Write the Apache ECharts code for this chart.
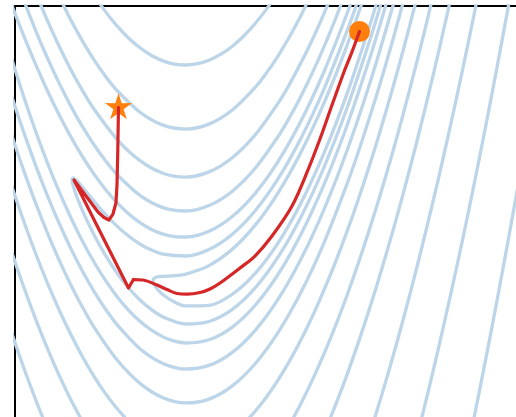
<!DOCTYPE html>
<html>
<head>
<meta charset="utf-8">
<style>
  html, body { margin: 0; padding: 0; background: #ffffff; }
  #chart { width: 516px; height: 417px; }
</style>
<script src="https://cdn.jsdelivr.net/npm/echarts@6/dist/echarts.min.js"></script>
</head>
<body>
<div id="chart"></div>
<script>
// Visible window of the (x, y) plane
const xRange = [-1.487, 2.870];
const yRange = [-1.130, 2.527];

// Contour lines of the objective, innermost level first.
// The two innermost levels close inside the window (lower branch, tip, upper branch).
const contour1 = [
  [1.7, 2.700], [1.6, 2.360], [1.4, 1.745], [1.2, 1.217], [1.0, 0.774], [0.8, 0.417],
  [0.6, 0.145], [0.4, -0.040], [0.2, -0.137], [0, -0.142], [-0.1, -0.107], [-0.2, -0.042],
  [-0.25, 0.009], [-0.27, 0.037], [-0.28, 0.055], [-0.2868, 0.082],
  [-0.28, 0.102], [-0.27, 0.109], [-0.25, 0.116], [-0.2, 0.122], [-0.1, 0.127], [0, 0.142],
  [0.2, 0.217], [0.4, 0.360], [0.6, 0.575], [0.8, 0.863], [1.0, 1.226], [1.2, 1.663],
  [1.4, 2.175], [1.6, 2.760]
];
const contour2 = [
  [1.7, 2.563], [1.6, 2.226], [1.4, 1.617], [1.2, 1.092], [1.0, 0.650], [0.8, 0.292],
  [0.6, 0.017], [0.4, -0.174], [0.2, -0.280], [0, -0.3025], [-0.2, -0.239], [-0.3, -0.175],
  [-0.4, -0.089], [-0.5, 0.020], [-0.6, 0.152], [-0.7, 0.308], [-0.8, 0.491], [-0.9, 0.706],
  [-0.95, 0.832], [-0.98, 0.924], [-0.991, 0.982],
  [-0.98, 0.997], [-0.95, 0.973], [-0.9, 0.914], [-0.8, 0.789], [-0.7, 0.672], [-0.6, 0.568],
  [-0.5, 0.480], [-0.4, 0.409], [-0.3, 0.355], [-0.2, 0.319], [0, 0.3025], [0.2, 0.360],
  [0.4, 0.494], [0.6, 0.703], [0.8, 0.988], [1.0, 1.350], [1.2, 1.788], [1.4, 2.303], [1.5, 2.589]
];
// Outer levels leave the window, so each branch is its own line.
const contour3Upper = [
  [-1.6, 2.771], [-1.5, 2.495], [-1.4, 2.234], [-1.3, 1.990], [-1.2, 1.762], [-1.1, 1.552],
  [-1.0, 1.360], [-0.9, 1.186], [-0.8, 1.031], [-0.7, 0.895], [-0.6, 0.777], [-0.5, 0.679],
  [-0.4, 0.599], [-0.3, 0.538], [-0.2, 0.497], [-0.1, 0.475], [0, 0.4715], [0.2, 0.523],
  [0.4, 0.652], [0.6, 0.858], [0.8, 1.142], [1.0, 1.503], [1.2, 1.942], [1.4, 2.458], [1.5, 2.746]
];
const contour3Lower = [
  [-1.6, 2.349], [-1.5, 2.005], [-1.4, 1.686], [-1.3, 1.390], [-1.2, 1.118], [-1.1, 0.868],
  [-1.0, 0.640], [-0.9, 0.434], [-0.8, 0.249], [-0.7, 0.085], [-0.6, -0.057], [-0.5, -0.179],
  [-0.4, -0.279], [-0.3, -0.358], [-0.2, -0.417], [-0.1, -0.455], [0, -0.4715], [0.2, -0.443],
  [0.4, -0.332], [0.6, -0.138], [0.8, 0.138], [1.0, 0.497], [1.2, 0.938], [1.4, 1.462],
  [1.6, 2.068], [1.7, 2.402], [1.8, 2.757]
];
const contour4Upper = [
  [-1.4, 2.549], [-1.3, 2.291], [-1.2, 2.053], [-1.1, 1.834], [-1.0, 1.634], [-0.9, 1.453],
  [-0.8, 1.292], [-0.7, 1.150], [-0.6, 1.028], [-0.4, 0.842], [-0.2, 0.733], [0, 0.703],
  [0.2, 0.751], [0.4, 0.877], [0.6, 1.081], [0.8, 1.364], [0.9, 1.534], [1.0, 1.725],
  [1.1, 1.934], [1.2, 2.164], [1.3, 2.413], [1.4, 2.681]
];
const contour4Lower = [
  [-1.6, 1.998], [-1.5, 1.674], [-1.4, 1.371], [-1.3, 1.089], [-1.2, 0.827], [-1.1, 0.587],
  [-1.0, 0.366], [-0.9, 0.167], [-0.8, -0.012], [-0.7, -0.170], [-0.6, -0.308], [-0.4, -0.522],
  [-0.2, -0.653], [0, -0.703], [0.2, -0.671], [0.4, -0.557], [0.6, -0.361], [0.8, -0.084],
  [1.0, 0.276], [1.2, 0.716], [1.4, 1.239], [1.6, 1.843], [1.8, 2.529], [1.9, 2.903]
];
const contour5Upper = [
  [-1.3, 2.627], [-1.2, 2.385], [-1.1, 2.162], [-1.0, 1.958], [-0.9, 1.774], [-0.8, 1.610],
  [-0.6, 1.341], [-0.4, 1.151], [-0.2, 1.039], [0, 1.005], [0.2, 1.051], [0.4, 1.175],
  [0.6, 1.378], [0.8, 1.660], [0.9, 1.830], [1.0, 2.021], [1.1, 2.230], [1.2, 2.460], [1.3, 2.709]
];
const contour5Lower = [
  [-1.7, 1.986], [-1.6, 1.647], [-1.5, 1.329], [-1.4, 1.031], [-1.3, 0.753], [-1.2, 0.496],
  [-1.1, 0.259], [-1.0, 0.042], [-0.9, -0.154], [-0.8, -0.330], [-0.6, -0.621], [-0.4, -0.831],
  [-0.2, -0.959], [0, -1.005], [0.2, -0.971], [0.4, -0.855], [0.6, -0.658], [0.8, -0.380],
  [1.0, -0.021], [1.2, 0.420], [1.4, 0.942], [1.5, 1.233], [1.6, 1.545], [1.7, 1.877],
  [1.8, 2.229], [1.9, 2.602]
];
const contour6Upper = [
  [-1.1, 2.605], [-1.0, 2.399], [-0.9, 2.214], [-0.8, 2.048], [-0.7, 1.902], [-0.6, 1.775],
  [-0.4, 1.582], [-0.2, 1.467], [0, 1.432], [0.2, 1.476], [0.4, 1.599], [0.6, 1.801],
  [0.7, 1.932], [0.8, 2.082], [0.9, 2.253], [1.0, 2.443], [1.1, 2.653]
];
const contour6LowerLeft = [
  [-1.6, 1.191], [-1.5, 0.876], [-1.4, 0.580], [-1.3, 0.305], [-1.2, 0.050], [-1.1, -0.185],
  [-1.0, -0.399], [-0.9, -0.594], [-0.8, -0.768], [-0.7, -0.922], [-0.6, -1.055], [-0.5, -1.169]
];
const contour6LowerRight = [
  [0.5, -1.190], [0.6, -1.081], [0.7, -0.952], [0.8, -0.802], [0.9, -0.633], [1.0, -0.443],
  [1.1, -0.233], [1.2, -0.002], [1.3, 0.248], [1.4, 0.519], [1.5, 0.810], [1.6, 1.121],
  [1.7, 1.452], [1.8, 1.804], [1.9, 2.176], [2.0, 2.568]
];
const contour7Upper = [
  [-0.8, 2.625], [-0.7, 2.477], [-0.6, 2.350], [-0.5, 2.242], [-0.4, 2.155], [-0.3, 2.087],
  [-0.2, 2.039], [-0.1, 2.010], [0, 2.002], [0.1, 2.014], [0.2, 2.045], [0.3, 2.096],
  [0.4, 2.167], [0.5, 2.258], [0.6, 2.369], [0.7, 2.499], [0.8, 2.649]
];
const contour7LowerLeft = [
  [-1.6, 0.603], [-1.5, 0.289], [-1.4, -0.005], [-1.3, -0.279], [-1.2, -0.532], [-1.1, -0.766],
  [-1.0, -0.979], [-0.9, -1.172]
];
const contour7LowerRight = [
  [0.9, -1.200], [1.0, -1.010], [1.1, -0.800], [1.2, -0.569], [1.3, -0.319], [1.4, -0.049],
  [1.5, 0.242], [1.6, 0.553], [1.7, 0.884], [1.8, 1.235], [1.9, 1.607], [2.0, 1.998],
  [2.1, 2.410], [2.2, 2.841]
];
const contour8LowerLeft = [
  [-1.6, -0.117], [-1.5, -0.430], [-1.4, -0.723], [-1.3, -0.995], [-1.2, -1.248]
];
const contour8LowerRight = [
  [1.2, -1.275], [1.3, -1.025], [1.4, -0.755], [1.5, -0.464], [1.6, -0.154], [1.7, 0.177],
  [1.8, 0.528], [1.9, 0.899], [2.0, 1.290], [2.1, 1.701], [2.2, 2.133], [2.3, 2.584]
];
const contour9Lower = [
  [1.6, -1.273], [1.7, -0.942], [1.8, -0.592], [1.9, -0.221], [2.0, 0.170], [2.1, 0.581],
  [2.2, 1.012], [2.3, 1.463], [2.4, 1.934], [2.5, 2.425], [2.6, 2.936]
];
const contour10Lower = [
  [2.0, -1.340], [2.1, -0.930], [2.2, -0.499], [2.3, -0.048], [2.4, 0.422], [2.5, 0.913],
  [2.6, 1.424], [2.7, 1.955], [2.8, 2.506], [2.9, 3.077]
];
const contour11Lower = [
  [2.4, -1.652], [2.5, -1.162], [2.6, -0.651], [2.7, -0.120], [2.8, 0.431], [2.9, 1.001], [3.0, 1.592]
];

// Optimizer iterates: the long descent into the valley, then the jump back up the valley
// and the final climb to the last iterate.
const pathDescent = [
  [1.509, 2.300], [1.443, 2.117], [1.374, 1.940], [1.270, 1.646], [1.165, 1.343], [1.061, 1.068],
  [0.922, 0.747], [0.748, 0.480], [0.600, 0.302], [0.470, 0.196], [0.296, 0.062], [0.209, 0.009],
  [0.122, -0.022], [0.009, -0.036], [-0.078, -0.031], [-0.165, 0.004], [-0.252, 0.044],
  [-0.374, 0.089], [-0.457, 0.093]
];
const pathReturn = [
  [-0.457, 0.093], [-0.500, 0.018], [-0.974, 0.979], [-0.765, 0.694],
  [-0.713, 0.645], [-0.670, 0.623], [-0.635, 0.676], [-0.609, 0.774], [-0.600, 0.934],
  [-0.593, 1.246], [-0.587, 1.624]
];
const startPoint = [1.509, 2.300];
const endPoint = [-0.587, 1.624];

const contourLines = [
  contour1, contour2, contour3Upper, contour3Lower, contour4Upper, contour4Lower,
  contour5Upper, contour5Lower, contour6Upper, contour6LowerLeft, contour6LowerRight,
  contour7Upper, contour7LowerLeft, contour7LowerRight, contour8LowerLeft, contour8LowerRight,
  contour9Lower, contour10Lower, contour11Lower
];

const CONTOUR_COLOR = '#bcd5e8';
const PATH_COLOR = '#d62728';
const MARKER_COLOR = '#ff7f0e';
const STAR_PATH = 'path://M0,-1L0.224,-0.308L0.951,-0.309L0.362,0.118L0.588,0.809L0,0.381L-0.588,0.809L-0.362,0.118L-0.951,-0.309L-0.224,-0.308Z';

const series = contourLines.map(function (pts) {
  return {
    type: 'line',
    data: pts,
    showSymbol: false,
    smooth: 0.3,
    clip: true,
    silent: true,
    z: 1,
    lineStyle: { color: CONTOUR_COLOR, width: 3.3, cap: 'round', join: 'round' }
  };
});

series.push({
  type: 'scatter',
  data: [startPoint],
  symbol: 'circle',
  symbolSize: 21,
  itemStyle: { color: MARKER_COLOR, opacity: 1 },
  silent: true,
  z: 3
});
series.push({
  type: 'scatter',
  data: [endPoint],
  symbol: STAR_PATH,
  symbolSize: [27, 26],
  symbolOffset: [0, -1.3],
  itemStyle: { color: MARKER_COLOR, opacity: 1 },
  silent: true,
  z: 3
});
[[pathDescent, 0.35], [pathReturn, 0]].forEach(function (seg) {
  series.push({
    type: 'line',
    data: seg[0],
    showSymbol: false,
    smooth: seg[1],
    clip: true,
    silent: true,
    z: 4,
    lineStyle: { color: PATH_COLOR, width: 3.2, cap: 'round', join: 'round' }
  });
});

const chart = echarts.init(document.getElementById('chart'), null, { renderer: 'canvas' });
chart.setOption({
  animation: false,
  backgroundColor: '#ffffff',
  grid: { left: 15, top: 6, right: 0, bottom: 0, containLabel: false },
  xAxis: {
    type: 'value',
    position: 'top',
    min: xRange[0],
    max: xRange[1],
    axisLine: { show: true, onZero: false, lineStyle: { color: '#000000', width: 2 } },
    axisTick: { show: false },
    axisLabel: { show: false },
    splitLine: { show: false }
  },
  yAxis: {
    type: 'value',
    position: 'left',
    min: yRange[0],
    max: yRange[1],
    axisLine: { show: true, onZero: false, lineStyle: { color: '#000000', width: 2 } },
    axisTick: { show: false },
    axisLabel: { show: false },
    splitLine: { show: false }
  },
  series: series
});
</script>
</body>
</html>
